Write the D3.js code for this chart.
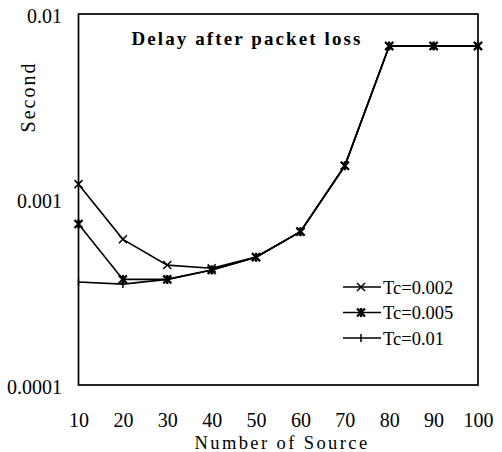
<!DOCTYPE html>
<html>
<head>
<meta charset="utf-8">
<script src="https://cdn.jsdelivr.net/npm/d3@7"></script>
<style>
  html, body { margin: 0; padding: 0; background: #fff; }
  svg { display: block; }
  text { font-family: "Liberation Serif", "DejaVu Serif", serif; fill: #000; }
</style>
</head>
<body>
<svg id="chart" width="502" height="452"></svg>
<script>
const sources = [10, 20, 30, 40, 50, 60, 70, 80, 90, 100];
const tc002 = [0.00121, 0.00061, 0.000443, 0.000426, 0.00049, 0.000671, 0.00152, 0.00672, 0.00672, 0.00672];
const tc005 = [0.000738, 0.000371, 0.000371, 0.000417, 0.000488, 0.000671, 0.00152, 0.00672, 0.00672, 0.00672];
const tc01  = [0.000359, 0.00035, 0.000371, 0.000417, 0.000488, 0.000671, 0.00152, 0.00672, 0.00672, 0.00672];
const seriesNames = ["Tc=0.002", "Tc=0.005", "Tc=0.01"];
const yTicks = [0.0001, 0.001, 0.01];
const yTickLabels = ["0.0001", "0.001", "0.01"];
const xTicks = [10, 20, 30, 40, 50, 60, 70, 80, 90, 100];
const titleText = "Delay after packet loss";
const xTitle = "Number of Source";
const yTitle = "Second";

const svg = d3.select("#chart");
const x = d3.scaleLinear().domain([10, 100]).range([78.5, 478]);
const y = d3.scaleLog().domain([0.0001, 0.01]).range([385, 14]);

// frame
svg.append("rect")
  .attr("x", x(10)).attr("y", y(0.01))
  .attr("width", x(100) - x(10)).attr("height", y(0.0001) - y(0.01))
  .attr("fill", "none").attr("stroke", "#000").attr("stroke-width", 1.7);

// x axis (labels only)
const xAxis = d3.axisBottom(x).tickValues(xTicks).tickSize(0).tickPadding(0).tickFormat(d3.format("d"));
const gx = svg.append("g").attr("transform", `translate(0,${y(0.0001)})`).call(xAxis);
gx.select(".domain").remove();
gx.selectAll("text").attr("y", 41.5).attr("dy", null)
  .style("font-family", '"Liberation Serif", serif').style("font-size", "20px");

// y axis (labels only)
const yAxis = d3.axisLeft(y).tickValues(yTicks).tickSize(0).tickPadding(0)
  .tickFormat((d, i) => yTickLabels[i]);
const gy = svg.append("g").attr("transform", `translate(62,0)`).call(yAxis);
gy.select(".domain").remove();
gy.selectAll("text").attr("x", 0).attr("dy", "0.4em")
  .style("font-family", '"Liberation Serif", serif').style("font-size", "20px");

// titles
svg.append("text").attr("x", 247).attr("y", 45).attr("text-anchor", "middle")
  .style("font-weight", "bold").style("font-size", "19px").style("letter-spacing", "2.1px")
  .text(titleText);
svg.append("text").attr("x", 282).attr("y", 448.5).attr("text-anchor", "middle")
  .style("font-size", "18.5px").style("letter-spacing", "2.4px").text(xTitle);
svg.append("text").attr("transform", "translate(35,97) rotate(-90)").attr("text-anchor", "middle")
  .style("font-size", "20px").style("letter-spacing", "2px").text(yTitle);

// markers
function marker(g, type, cx, cy) {
  const s = 4;
  const p = d3.path();
  if (type === 0) {
    p.moveTo(cx - s, cy - s); p.lineTo(cx + s, cy + s);
    p.moveTo(cx - s, cy + s); p.lineTo(cx + s, cy - s);
    g.append("path").attr("d", p.toString()).attr("stroke", "#000").attr("stroke-width", 1.5).attr("fill", "none");
  } else if (type === 1) {
    p.moveTo(cx - s, cy - s); p.lineTo(cx + s, cy + s);
    p.moveTo(cx - s, cy + s); p.lineTo(cx + s, cy - s);
    p.moveTo(cx, cy - s - 0.5); p.lineTo(cx, cy + s + 0.5);
    g.append("path").attr("d", p.toString()).attr("stroke", "#000").attr("stroke-width", 2.3).attr("fill", "none");
  } else {
    p.moveTo(cx, cy - s); p.lineTo(cx, cy + s);
    g.append("path").attr("d", p.toString()).attr("stroke", "#000").attr("stroke-width", 1.5).attr("fill", "none");
  }
}

const allSeries = [tc002, tc005, tc01];
const line = d3.line().x((d, i) => x(sources[i])).y(d => y(d));
const plot = svg.append("g");
allSeries.forEach((vals) => {
  plot.append("path").datum(vals).attr("d", line)
    .attr("fill", "none").attr("stroke", "#000").attr("stroke-width", 1.6);
});
allSeries.forEach((vals, k) => {
  vals.forEach((v, i) => marker(plot, k, x(sources[i]), y(v)));
});

// legend
const legY = [287, 312.5, 338];
const leg = svg.append("g");
seriesNames.forEach((name, k) => {
  leg.append("line").attr("x1", 343).attr("x2", 381).attr("y1", legY[k]).attr("y2", legY[k])
    .attr("stroke", "#000").attr("stroke-width", 1.5);
  marker(leg, k, 361, legY[k]);
  leg.append("text").attr("x", 383).attr("y", legY[k]).attr("dy", "0.36em")
    .style("font-size", "18.5px").text(name);
});
</script>
</body>
</html>
